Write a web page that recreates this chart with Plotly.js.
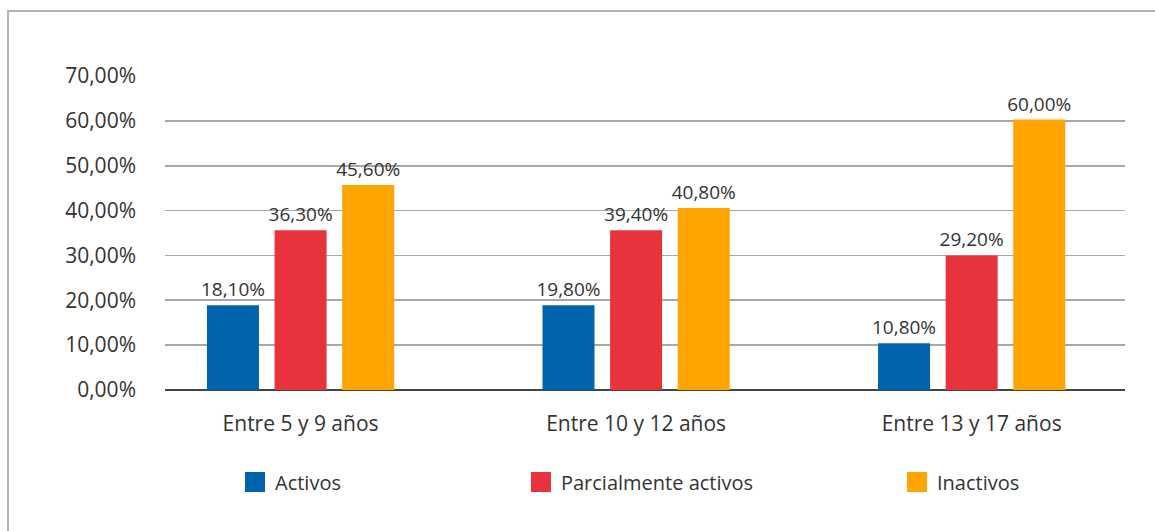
<!DOCTYPE html>
<html>
<head>
<meta charset="utf-8">
<script src="https://cdn.plot.ly/plotly-3.0.1.min.js"></script>
<style>
  html, body { margin: 0; padding: 0; background: #ffffff; }
  #wrap { position: relative; width: 1155px; height: 531px; overflow: hidden; }
  #chart { position: absolute; left: 0; top: 0; width: 1155px; height: 531px; }
  #frame { position: absolute; left: 7px; top: 10px; width: 1160px; height: 540px;
           border-left: 2px solid #b4b4b4; border-top: 2px solid #b4b4b4; pointer-events: none; }
</style>
</head>
<body>
<div id="wrap">
  <div id="chart"></div>
  <div id="frame"></div>
</div>
<script>
// Categories (age groups)
const categories = ["Entre 5 y 9 años", "Entre 10 y 12 años", "Entre 13 y 17 años"];

// Bar heights as drawn in the picture (%)
const activos = [18.9, 18.9, 10.4];
const parcialmenteActivos = [35.6, 35.6, 30.0];
const inactivos = [45.7, 40.6, 60.3];

// Data labels printed above the bars (%)
const activosLabels = [18.10, 19.80, 10.80];
const parcialmenteLabels = [36.30, 39.40, 29.20];
const inactivosLabels = [45.60, 40.80, 60.00];

const seriesNames = ["Activos", "Parcialmente activos", "Inactivos"];
const colors = ["#0063ae", "#e8323c", "#ffa400"];

const fmt = v => v.toFixed(2).replace(".", ",") + "%";

const FONT = "Open Sans, Liberation Sans, Arial, sans-serif";
const TXT = "#333333";

function barTrace(name, y, labels, color) {
  return {
    type: "bar",
    name: name,
    x: categories,
    y: y,
    text: labels.map(fmt),
    textposition: "outside",
    constraintext: "none",
    cliponaxis: false,
    textfont: { family: FONT, size: 19, color: TXT },
    marker: { color: color },
    showlegend: false,
    hoverinfo: "skip"
  };
}

// Legend-only entries (square swatches like the reference)
function legendEntry(name, color, legendId) {
  return {
    type: "scatter",
    mode: "markers",
    name: name,
    x: [null],
    y: [null],
    marker: { symbol: "square", size: 16, color: color, line: { color: color, width: 4 } },
    legend: legendId,
    showlegend: true,
    hoverinfo: "skip"
  };
}

const data = [
  barTrace(seriesNames[0], activos, activosLabels, colors[0]),
  barTrace(seriesNames[1], parcialmenteActivos, parcialmenteLabels, colors[1]),
  barTrace(seriesNames[2], inactivos, inactivosLabels, colors[2]),
  legendEntry(seriesNames[0], colors[0], "legend"),
  legendEntry(seriesNames[1], colors[1], "legend2"),
  legendEntry(seriesNames[2], colors[2], "legend3")
];

const legendCommon = {
  orientation: "h",
  y: -0.293,
  yanchor: "middle",
  xanchor: "left",
  itemsizing: "trace",
  bgcolor: "rgba(0,0,0,0)",
  font: { family: FONT, size: 20, color: TXT }
};

const layout = {
  width: 1155,
  height: 531,
  margin: { l: 165, r: 30, t: 76, b: 141 },
  paper_bgcolor: "#ffffff",
  plot_bgcolor: "#ffffff",
  separators: ",.",
  barmode: "group",
  bargap: 0.3955,
  bargroupgap: 0.231,
  showlegend: true,
  font: { family: FONT, color: TXT },
  xaxis: {
    type: "category",
    range: [-0.404, 2.457],
    showgrid: false,
    showline: false,
    zeroline: false,
    ticks: "",
    ticklabelstandoff: 19,
    tickfont: { family: FONT, size: 21, color: TXT },
    fixedrange: true
  },
  yaxis: {
    range: [0, 70],
    dtick: 10,
    tick0: 0,
    tickformat: ".2f",
    ticksuffix: "%",
    showgrid: true,
    gridcolor: "#a8a8a8",
    gridwidth: 1.6,
    zeroline: true,
    zerolinecolor: "#444444",
    zerolinewidth: 1.8,
    showline: false,
    ticks: "",
    ticklabelstandoff: 28,
    tickfont: { family: FONT, size: 21, color: TXT },
    fixedrange: true
  },
  legend: Object.assign({}, legendCommon, { x: 0.0729 }),
  legend2: Object.assign({}, legendCommon, { x: 0.3708 }),
  legend3: Object.assign({}, legendCommon, { x: 0.7625 })
};

Plotly.newPlot("chart", data, layout, { displayModeBar: false, staticPlot: true });
</script>
</body>
</html>
